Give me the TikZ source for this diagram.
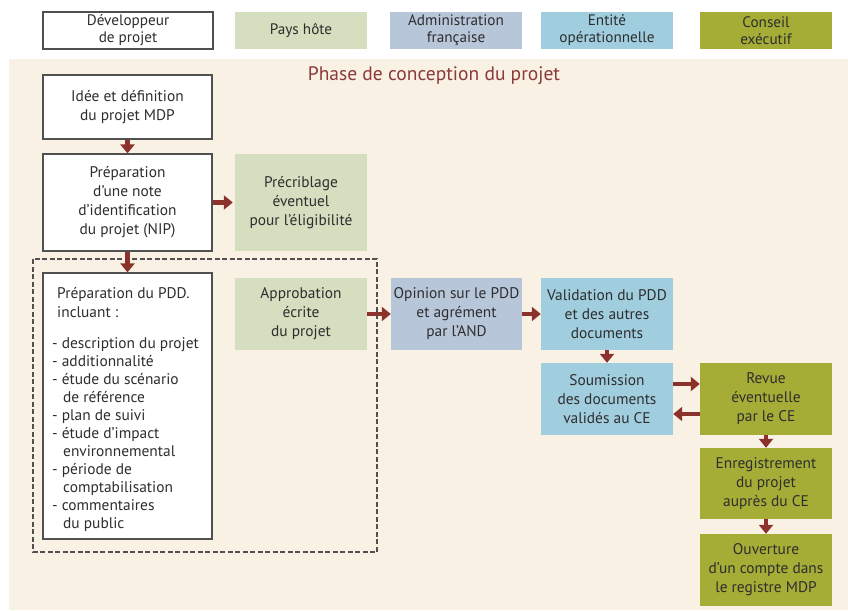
\documentclass[tikz,border=0pt]{standalone}
\usepackage{fontspec}
\setmainfont{PT Sans}
\usetikzlibrary{arrows.meta}
\definecolor{bgbeige}{HTML}{F9F1E4}
\definecolor{paysc}{HTML}{D5DEBE}
\definecolor{adminc}{HTML}{B8C6DA}
\definecolor{entitec}{HTML}{A0CEDE}
\definecolor{conseilc}{HTML}{A6AD36}
\definecolor{arrowc}{HTML}{8C322D}
\definecolor{titlec}{HTML}{8B3A3A}
\definecolor{txtc}{HTML}{2E2E2E}
\definecolor{borderc}{HTML}{505050}
\tikzset{
  box/.style={rectangle, inner sep=0pt, align=center, text=txtc,
    font=\fontsize{15.4}{19}\selectfont},
  whitebox/.style={box, fill=white, draw=borderc, line width=1.2pt},
  paysbox/.style={box, fill=paysc},
  adminbox/.style={box, fill=adminc},
  entitebox/.style={box, fill=entitec},
  conseilbox/.style={box, fill=conseilc},
  legbox/.style={minimum height=37pt, font=\fontsize{15.2}{17}\selectfont},
  arr/.style={draw=arrowc, line width=4.3pt, -{Triangle[width=14pt,length=9pt]}, arrowc},
}
\begin{document}
\begin{tikzpicture}[x=1pt,y=-1pt]
\useasboundingbox (0,0) rectangle (848,610);
\fill[white] (0,0) rectangle (848,610);
\fill[bgbeige] (9,59) rectangle (848,610);

% legend
\node[whitebox, legbox, minimum width=170pt] (ldev) at (128,30.5) {Développeur\\de projet};
\node[paysbox, legbox, minimum width=132pt] (lpays) at (301,30.5) {Pays hôte};
\node[adminbox, legbox, minimum width=132pt] (ladmin) at (456,30.5) {Administration\\française};
\node[entitebox, legbox, minimum width=132pt] (lentite) at (607,30.5) {Entité\\opérationnelle};
\node[conseilbox, legbox, minimum width=132pt] (lconseil) at (766,30.5) {Conseil\\exécutif};

% title
\node[text=titlec, font=\fontsize{19.5}{22}\selectfont] (title) at (434,76) {Phase de conception du projet};

% dashed group
\draw[borderc, line width=1.3pt, dash pattern=on 5pt off 2.5pt] (33,259) rectangle (377,552);

% main boxes
\node[whitebox, minimum width=169pt, minimum height=64pt] (idee) at (127.5,107) {Idée et définition\\du projet MDP};
\node[whitebox, minimum width=169pt, minimum height=97pt] (nip) at (127.5,202.5) {Préparation\\d’une note\\d’identification\\du projet (NIP)};
\node[paysbox, minimum width=132pt, minimum height=97pt] (precrib) at (301,202.5) {Précriblage\\éventuel\\pour l’éligibilité};
\node[whitebox, minimum width=169pt, minimum height=266pt] (pdd) at (127.5,406) {};
\node[anchor=north west, align=left, text=txtc, inner sep=0pt, font=\fontsize{15.4}{18}\selectfont] (pddtxt) at (52,287)
 {\hspace*{5pt}Préparation du PDD.\\[1pt]
  \hspace*{5pt}incluant :\\[13pt]
  - description du projet\\
  - additionnalité\\
  - étude du scénario\\
  \hspace*{11pt}de référence\\
  - plan de suivi\\
  - étude d’impact\\
  \hspace*{11pt}environnemental\\
  - période de\\
  \hspace*{11pt}comptabilisation\\
  - commentaires\\
  \hspace*{11pt}du public};
\node[paysbox, minimum width=132pt, minimum height=72pt] (approb) at (301,314) {Approbation\\écrite\\du projet};
\node[adminbox, minimum width=131pt, minimum height=72pt] (opinion) at (456.5,314) {Opinion sur le PDD\\et agrément\\par l’AND};
\node[entitebox, minimum width=132pt, minimum height=72pt] (valid) at (607,314) {Validation du PDD\\et des autres\\documents};
\node[entitebox, minimum width=132pt, minimum height=72pt] (soum) at (607,399) {Soumission\\des documents\\validés au CE};
\node[conseilbox, minimum width=132pt, minimum height=72pt] (revue) at (766,399) {Revue\\éventuelle\\par le CE};
\node[conseilbox, minimum width=132pt, minimum height=71pt] (enreg) at (766,483.5) {Enregistrement\\du projet\\auprès du CE};
\node[conseilbox, minimum width=132pt, minimum height=72pt] (ouvert) at (766,570) {Ouverture\\d’un compte dans\\le registre MDP};

% arrows
\draw[arr] (idee.south) -- (nip.north);
\draw[arr] (nip.east) -- ([xshift=-2pt]precrib.west);
\draw[arr] (nip.south) -- (pdd.north);
\draw[arr] (approb.east) -- (opinion.west);
\draw[arr] (opinion.east) -- (valid.west);
\draw[arr] (valid.south) -- (soum.north);
\draw[arr] ([yshift=15pt]soum.east) -- ([yshift=15pt]revue.west);
\draw[arr] ([yshift=-15pt]revue.west) -- ([yshift=-15pt]soum.east);
\draw[arr] (revue.south) -- (enreg.north);
\draw[arr] (enreg.south) -- (ouvert.north);
\end{tikzpicture}
\end{document}
